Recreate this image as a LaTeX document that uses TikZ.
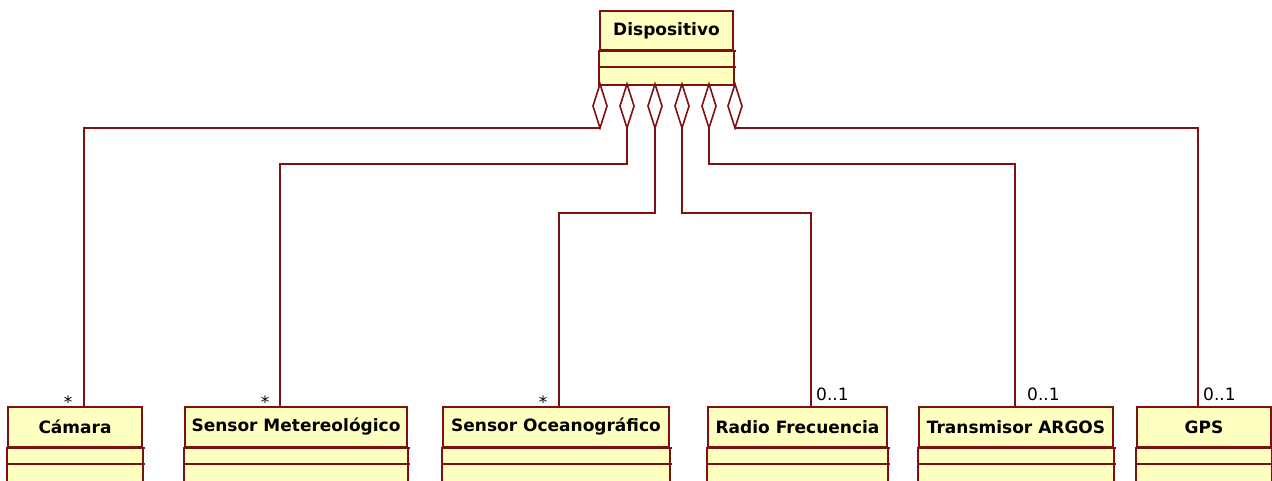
\documentclass[tikz,border=0pt]{standalone}
\usepackage{fontspec}
\setmainfont{DejaVu Sans}
\definecolor{umlborder}{RGB}{128,16,16}
\definecolor{umlfill}{RGB}{255,255,192}
\begin{document}
\begin{tikzpicture}[x=1pt,y=-1pt,
  cls/.style={draw=umlborder, fill=umlfill, line width=1.6pt, inner sep=0pt,
    minimum height=40pt, font=\bfseries\fontsize{17}{19}\selectfont},
  conn/.style={draw=umlborder, line width=1.6pt},
  agg/.style={draw=umlborder, fill=white, line width=1.6pt, line join=miter},
  mult/.style={inner sep=0pt, font=\fontsize{17}{19}\selectfont, text=black}]
\clip (0,0) rectangle (1272,480);
\fill[white] (0,0) rectangle (1272,480);

% parent class
\node[cls, minimum width=133pt, minimum height=39pt] (disp) at (666.5,30.5) {Dispositivo};
\draw[conn, fill=umlfill] (disp.south west) rectangle ([yshift=-34pt]disp.south east);
\draw[conn] ([yshift=-16pt]disp.south west) -- ([xshift=2pt,yshift=-16pt]disp.south east);
\draw[conn] (disp.south west) -- ([xshift=2pt]disp.south east);

% child classes
\foreach \n/\cx/\w/\t in {cam/75/134/{Cámara}, smet/296/222/{Sensor Metereológico},
  soce/556/226/{Sensor Oceanográfico}, radio/797.5/179/{Radio Frecuencia},
  argos/1016/194/{Transmisor ARGOS}, gps/1204/134/{GPS}}{
  \node[cls, minimum width=\w pt] (\n) at (\cx,427) {\t};
  \draw[conn, fill=umlfill] (\n.south west) rectangle ([yshift=-60pt]\n.south east);
  \draw[conn] (\n.south west) -- ([xshift=2pt]\n.south east);
  \draw[conn] ([yshift=-16pt]\n.south west) -- ([xshift=2pt,yshift=-16pt]\n.south east);
}

% aggregation endpoints
\foreach \i/\x in {1/600, 2/627, 3/655, 4/682, 5/709, 6/735}{
  \coordinate (a\i) at (\x,84);
  \coordinate (b\i) at (\x,128);
}
\coordinate (k2) at (627,164);
\coordinate (k3) at (655,213);
\coordinate (k4) at (682,213);
\coordinate (k5) at (709,164);

\draw[conn] (b1) -| ([xshift=9pt]cam.north);
\draw[conn] (b2) -- (k2) -| ([xshift=-16pt]smet.north);
\draw[conn] (b3) -- (k3) -| ([xshift=3pt]soce.north);
\draw[conn] (b4) -- (k4) -| ([xshift=13.5pt]radio.north);
\draw[conn] (b5) -- (k5) -| ([xshift=-1pt]argos.north);
\draw[conn] (b6) -| ([xshift=-6pt]gps.north);

\foreach \i in {1,...,6}{
  \draw[agg] (a\i) -- ++(-7,22) -- ++(7,22) -- ++(7,-22) -- cycle;
}

% multiplicities
\node[mult, anchor=base] (m1) at (68,408) {*};
\node[mult, anchor=base] (m2) at (265,408) {*};
\node[mult, anchor=base] (m3) at (543,408) {*};
\node[mult, anchor=base west] (m4) at (816,400) {0..1};
\node[mult, anchor=base west] (m5) at (1027,400) {0..1};
\node[mult, anchor=base west] (m6) at (1203,400) {0..1};
\end{tikzpicture}
\end{document}
